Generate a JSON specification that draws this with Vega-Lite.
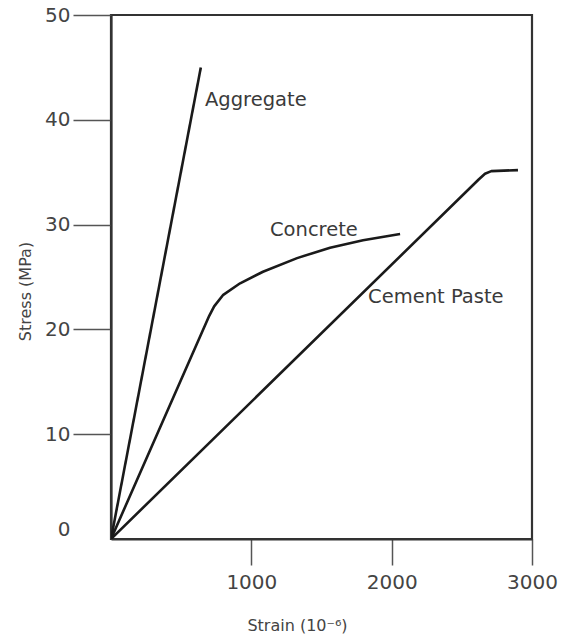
{
  "$schema": "https://vega.github.io/schema/vega-lite/v6.json",
  "width": 421,
  "height": 524,
  "autosize": "none",
  "padding": {"left": 111, "top": 15, "right": 29, "bottom": 98},
  "background": "white",
  "config": {
    "view": {"stroke": "#333333", "strokeWidth": 2.2},
    "font": "DejaVu Sans"
  },
  "datasets": {
    "curves": [
      {"series": "Aggregate", "order": 0, "strain": 0, "stress": 0},
      {"series": "Aggregate", "order": 1, "strain": 640, "stress": 45},
      {"series": "Concrete", "order": 0, "strain": 0, "stress": 0},
      {"series": "Concrete", "order": 1, "strain": 700, "stress": 21.3},
      {"series": "Concrete", "order": 2, "strain": 735, "stress": 22.2},
      {"series": "Concrete", "order": 3, "strain": 800, "stress": 23.3},
      {"series": "Concrete", "order": 4, "strain": 920, "stress": 24.4},
      {"series": "Concrete", "order": 5, "strain": 1083, "stress": 25.5},
      {"series": "Concrete", "order": 6, "strain": 1326, "stress": 26.8},
      {"series": "Concrete", "order": 7, "strain": 1561, "stress": 27.8},
      {"series": "Concrete", "order": 8, "strain": 1796, "stress": 28.5},
      {"series": "Concrete", "order": 9, "strain": 2060, "stress": 29.1},
      {"series": "Cement Paste", "order": 0, "strain": 0, "stress": 0},
      {"series": "Cement Paste", "order": 1, "strain": 2620, "stress": 34.3},
      {"series": "Cement Paste", "order": 2, "strain": 2665, "stress": 34.85},
      {"series": "Cement Paste", "order": 3, "strain": 2710, "stress": 35.1},
      {"series": "Cement Paste", "order": 4, "strain": 2900, "stress": 35.2}
    ],
    "labels": [
      {"label": "Aggregate", "strain": 670, "stress": 41.9},
      {"label": "Concrete", "strain": 1133, "stress": 29.5},
      {"label": "Cement Paste", "strain": 1832, "stress": 23.1}
    ]
  },
  "layer": [
    {
      "data": {"name": "curves"},
      "mark": {"type": "line", "color": "#1a1a1a", "strokeWidth": 2.6, "strokeJoin": "round", "clip": true},
      "encoding": {
        "x": {
          "field": "strain", "type": "quantitative",
          "scale": {"domain": [0, 3000], "nice": false, "zero": false},
          "axis": {
            "values": [1000, 2000, 3000],
            "format": "d",
            "title": "Strain (10⁻⁶)",
            "titleFont": "DejaVu Sans", "titleFontSize": 16, "titleFontWeight": "normal", "titleColor": "#444444",
            "titleX": 186, "titleY": 91, "titleBaseline": "alphabetic", "titleAnchor": "middle", "titleAlign": "center",
            "grid": false,
            "domainColor": "#333333", "domainWidth": 2.2,
            "tickColor": "#555555", "tickWidth": 1.5, "tickSize": 26,
            "labelFont": "DejaVu Sans", "labelFontSize": 20, "labelColor": "#444444", "labelPadding": 7,
            "labelFlush": false
          }
        },
        "y": {
          "field": "stress", "type": "quantitative",
          "scale": {"domain": [0, 50], "nice": false, "zero": false},
          "axis": {
            "values": [0, 10, 20, 30, 40, 50],
            "format": "d",
            "title": "Stress (MPa)",
            "titleFont": "DejaVu Sans", "titleFontSize": 16, "titleFontWeight": "normal", "titleColor": "#444444",
            "titleX": -86, "titleY": 276, "titleAngle": -90, "titleBaseline": "middle", "titleAlign": "center",
            "grid": false,
            "domainColor": "#333333", "domainWidth": 2.2,
            "tickColor": "#555555", "tickWidth": 1.5, "tickSize": 38,
            "tickOpacity": {"condition": {"test": "datum.value === 0", "value": 0}, "value": 1},
            "labelOffset": {"condition": {"test": "datum.value === 0", "value": -10}, "value": 0},
            "labelFont": "DejaVu Sans", "labelFontSize": 20, "labelColor": "#444444", "labelPadding": 3,
            "labelFlush": false
          }
        },
        "detail": {"field": "series"},
        "order": {"field": "order", "type": "quantitative"}
      }
    },
    {
      "data": {"name": "labels"},
      "mark": {"type": "text", "align": "left", "baseline": "middle", "fontSize": 19.5, "font": "DejaVu Sans", "color": "#3a3a3a"},
      "encoding": {
        "x": {"field": "strain", "type": "quantitative"},
        "y": {"field": "stress", "type": "quantitative"},
        "text": {"field": "label"}
      }
    }
  ]
}
